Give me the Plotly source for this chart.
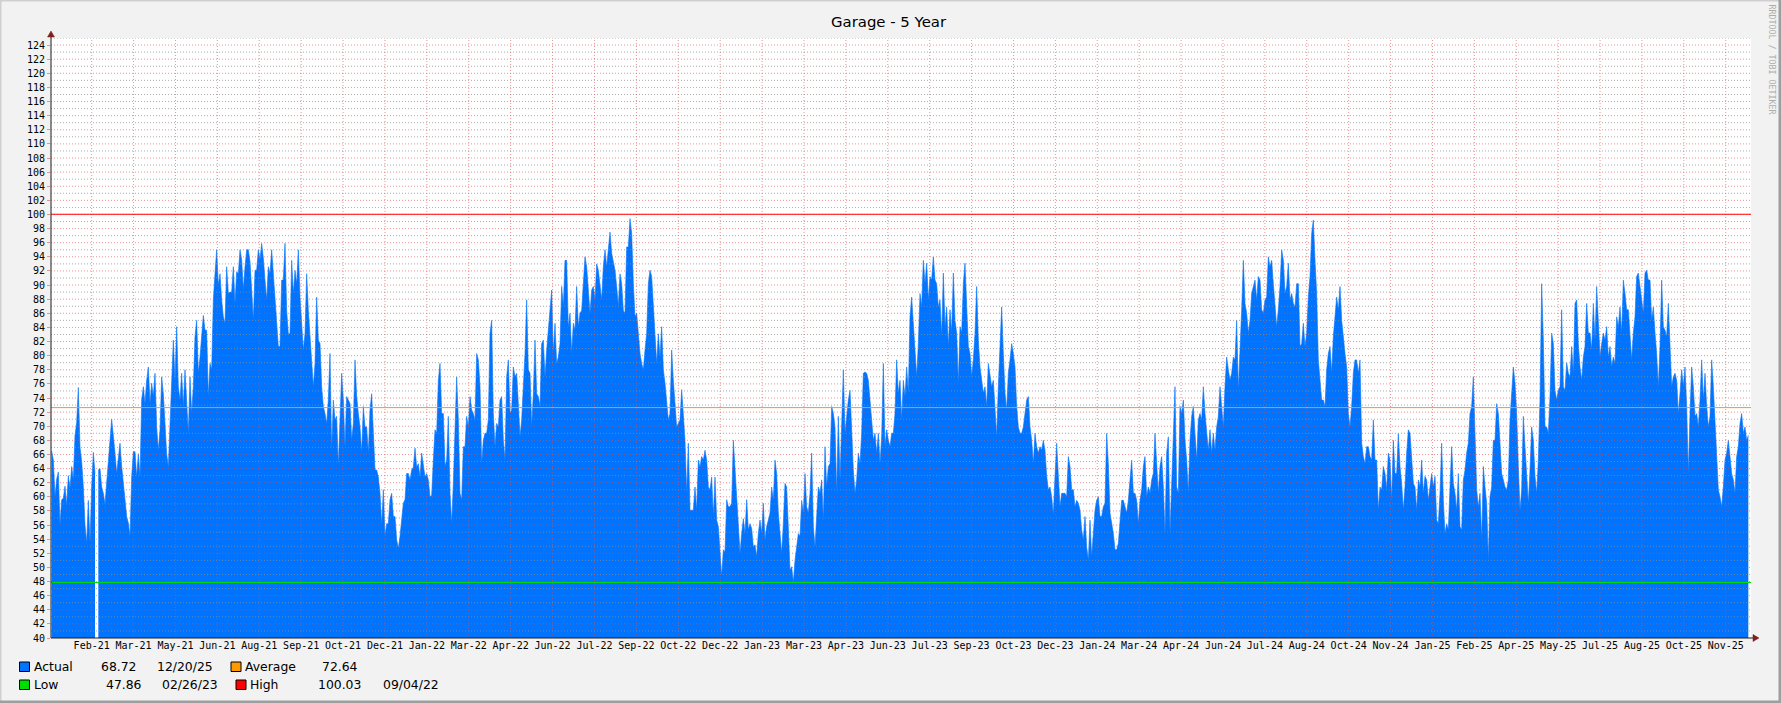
import plotly.graph_objects as go

# ---------------- data ----------------
title_text = "Garage - 5 Year"

x_tick_labels = ["Feb-21", "Mar-21", "May-21", "Jun-21", "Aug-21", "Sep-21", "Oct-21", "Dec-21",
                 "Jan-22", "Mar-22", "Apr-22", "Jun-22", "Jul-22", "Sep-22", "Oct-22", "Dec-22",
                 "Jan-23", "Mar-23", "Apr-23", "Jun-23", "Jul-23", "Sep-23", "Oct-23", "Dec-23",
                 "Jan-24", "Mar-24", "Apr-24", "Jun-24", "Jul-24", "Aug-24", "Oct-24", "Nov-24",
                 "Jan-25", "Feb-25", "Apr-25", "May-25", "Jul-25", "Aug-25", "Oct-25", "Nov-25"]

y_tick_values = list(range(40, 125, 2))

actual_dec20_jun21 = [
    66.5, 65.2, 60.0, 62.5, 63.5, 56.0, 59.6, 59.8, 61.5, 58.8,
    63.0, 61.2, 64.3, 62.5, 68.7, 70.5, 75.5, 67.0, 65.0, 61.4,
    56.0, 53.5, 59.5, 53.5, 61.4, 66.3, 63.3, None, 63.8, 64.0,
    61.4, 60.5, 59.0, 62.4, 64.3, 68.0, 71.0, 69.0, 66.2, 63.3,
    66.0, 67.6, 64.3, 61.4, 59.6, 57.2, 56.3, 54.4, 62.8, 66.4,
    66.4, 62.8, 66.1, 62.8, 73.7, 75.6, 73.2, 76.5, 78.4, 73.2,
    76.1, 74.2, 77.5, 69.9, 66.6, 69.5, 77.0, 74.6, 69.5, 66.1,
    64.2, 69.5, 75.6, 82.2, 76.5, 84.1, 75.6, 73.7, 77.5, 72.8,
    78.0, 74.2, 69.0, 77.0, 71.8, 75.6, 82.7, 85.0, 77.5, 79.8,
    83.1, 85.7, 83.6, 83.6, 74.2, 78.9, 78.0, 87.9, 91.6, 95.0]

actual_jun21_dec21 = [
    90.0, 91.6, 87.9, 85.5, 84.6, 92.6, 88.8, 89.0, 89.0, 92.6,
    87.4, 91.9, 91.6, 95.0, 93.6, 89.3, 92.6, 95.0, 95.0, 93.3,
    89.3, 85.0, 92.1, 92.1, 95.0, 93.6, 95.9, 93.8, 90.7, 87.9,
    92.6, 91.6, 95.0, 91.6, 87.4, 84.1, 81.3, 81.3, 90.7, 90.7,
    95.9, 86.4, 83.1, 83.1, 93.5, 88.8, 92.1, 90.2, 95.0, 88.3,
    84.1, 80.8, 83.1, 91.6, 86.4, 82.7, 79.8, 75.6, 78.9, 88.3,
    82.2, 81.7, 75.6, 72.8, 71.8, 70.4, 73.7, 80.3, 66.6, 73.7,
    70.9, 71.4, 64.3, 71.4, 77.5, 73.7, 67.1, 74.2, 73.7, 73.2,
    68.0, 70.4, 79.4, 74.2, 71.8, 69.9, 66.2, 72.8, 69.9, 69.9,
    66.2, 72.3, 74.6, 69.0, 63.8, 63.8, 62.8, 60.5, 56.0, 61.0,
    54.4, 56.2, 56.2]

actual_dec21_jun22 = [
    59.6, 60.5, 57.2, 57.2, 53.9, 52.7, 54.4, 56.7, 59.1, 59.6,
    63.3, 63.3, 62.4, 63.8, 64.2, 66.9, 64.2, 64.7, 62.8, 66.2,
    64.2, 62.8, 63.3, 62.4, 60.0, 60.2, 65.2, 69.5, 69.0, 76.5,
    78.9, 71.8, 71.8, 64.3, 65.2, 71.4, 60.5, 56.2, 61.9, 69.5,
    77.0, 70.9, 60.5, 59.6, 67.1, 67.1, 71.4, 69.9, 74.2, 72.3,
    71.8, 70.9, 80.3, 79.4, 75.6, 64.7, 68.0, 69.0, 69.0, 70.9,
    83.2, 85.0, 71.8, 67.1, 70.4, 69.9, 73.7, 74.2, 68.0, 65.2,
    77.0, 79.4, 71.8, 72.3, 78.4, 77.0, 77.5, 73.2, 68.5, 70.9,
    75.6, 80.3, 87.9, 78.0, 77.5, 69.9, 74.6, 82.2, 74.6, 74.2,
    72.8, 81.7, 82.2, 77.0, 80.8, 84.1, 86.4, 89.3, 80.3, 84.6,
    78.9, 79.8, 81.7]

actual_jun22_dec22 = [
    89.8, 87.0, 93.5, 93.5, 84.0, 86.0, 80.3, 84.6, 83.6, 89.8,
    84.1, 86.0, 86.4, 90.2, 94.0, 92.6, 88.8, 86.0, 89.3, 89.8,
    87.9, 93.0, 92.1, 90.2, 87.9, 92.6, 95.0, 92.6, 95.0, 97.5,
    94.5, 93.0, 92.1, 89.8, 87.0, 91.6, 90.2, 86.4, 86.0, 95.4,
    95.4, 99.4, 97.3, 90.2, 85.5, 86.0, 83.1, 80.3, 78.9, 78.0,
    80.8, 83.1, 90.2, 92.1, 91.2, 87.0, 81.3, 78.9, 83.1, 79.8,
    84.1, 78.0, 76.1, 73.7, 70.9, 71.8, 80.8, 76.5, 72.8, 69.9,
    70.4, 70.9, 75.2, 71.4, 68.0, 60.5, 67.6, 58.1, 58.1, 58.1,
    61.4, 58.1, 65.2, 64.2, 65.7, 65.2, 66.6, 65.2, 61.4, 61.0,
    62.8, 57.2, 62.8, 56.7, 55.8, 52.0, 48.7, 52.5, 52.2, 59.6,
    58.6, 58.6, 59.1]

actual_dec22_jun23 = [
    68.0, 63.8, 59.5, 56.2, 52.0, 54.8, 56.9, 54.8, 59.6, 55.3,
    56.2, 55.5, 52.9, 53.2, 51.5, 54.8, 56.7, 54.8, 59.1, 53.9,
    55.8, 56.7, 57.7, 61.4, 59.5, 65.2, 63.3, 57.7, 54.8, 52.0,
    56.2, 61.9, 61.4, 54.8, 49.6, 50.1, 47.9, 51.0, 52.9, 54.8,
    54.4, 59.5, 57.7, 63.3, 58.6, 57.7, 60.5, 66.2, 55.8, 52.9,
    57.2, 61.4, 60.5, 62.4, 56.7, 67.1, 61.4, 64.3, 64.7, 72.8,
    71.8, 69.9, 60.5, 71.4, 62.4, 69.0, 78.0, 69.0, 71.8, 73.7,
    75.1, 69.0, 63.8, 60.5, 62.4, 66.2, 64.7, 69.0, 77.5, 77.7,
    77.5, 76.5, 73.7, 71.8, 68.0, 69.0, 66.2, 69.0, 64.7, 68.5,
    78.9, 67.1, 69.5, 68.0, 67.1, 69.0, 69.0, 71.8, 79.4, 74.7,
    76.5, 70.9, 76.5]

actual_jun23_dec23 = [
    74.2, 78.4, 74.7, 85.5, 88.3, 84.6, 80.3, 77.0, 81.7, 88.8,
    86.9, 93.5, 90.2, 93.1, 87.9, 91.2, 90.7, 94.0, 90.7, 90.2,
    86.9, 87.9, 82.7, 91.7, 84.1, 86.9, 81.3, 86.5, 83.2, 91.7,
    85.0, 83.2, 76.1, 84.1, 83.2, 90.2, 93.1, 87.4, 81.3, 80.3,
    77.0, 79.4, 83.2, 89.8, 82.2, 78.4, 76.5, 74.7, 75.6, 72.8,
    78.9, 77.5, 75.6, 76.5, 72.8, 68.5, 75.6, 82.7, 86.9, 80.3,
    74.7, 72.3, 77.5, 79.4, 81.7, 80.3, 78.4, 72.8, 69.9, 69.0,
    69.0, 69.9, 71.8, 73.7, 74.2, 69.9, 68.0, 64.7, 69.0, 67.1,
    66.2, 67.1, 66.6, 68.0, 66.6, 62.9, 61.0, 61.4, 60.0, 57.4,
    62.9, 67.6, 62.9, 58.6, 60.5, 60.5, 60.5, 60.0, 65.7, 64.3,
    61.0, 61.0, 58.6, 59.5]

actual_dec23_jul24 = [
    59.1, 58.1, 55.3, 53.9, 57.2, 52.9, 51.0, 56.7, 51.5, 54.8,
    58.1, 59.5, 60.0, 57.2, 57.2, 58.6, 59.1, 69.0, 64.7, 57.7,
    56.2, 54.8, 52.5, 52.5, 53.4, 57.2, 59.5, 59.5, 58.6, 57.7,
    59.5, 61.9, 65.2, 60.5, 60.5, 59.5, 56.2, 59.5, 61.0, 64.3,
    65.7, 60.0, 61.4, 60.5, 62.4, 63.3, 69.0, 64.7, 60.5, 64.3,
    65.7, 61.4, 54.8, 66.2, 68.5, 54.8, 61.9, 67.1, 75.6, 61.4,
    60.5, 72.8, 71.8, 73.7, 68.0, 65.2, 60.5, 68.0, 71.4, 72.8,
    69.0, 65.2, 70.9, 71.8, 70.9, 75.6, 71.8, 69.0, 66.6, 69.5,
    66.2, 69.0, 66.6, 69.9, 71.4, 75.6, 72.8, 69.9, 75.6, 79.8,
    78.0, 76.5, 77.5, 79.8, 79.4, 85.0, 75.1, 80.3, 86.5, 93.5,
    87.4, 86.0, 83.2]

actual_jul24_jan25 = [
    85.0, 88.8, 89.8, 90.7, 87.9, 91.2, 90.7, 86.5, 86.0, 87.9,
    88.3, 94.0, 92.6, 93.5, 90.2, 87.4, 84.1, 86.5, 89.8, 95.0,
    93.5, 88.8, 89.8, 93.1, 87.9, 88.8, 87.4, 86.9, 90.2, 90.2,
    81.3, 81.7, 84.6, 81.3, 83.2, 88.3, 91.2, 97.3, 99.2, 93.5,
    88.8, 79.4, 76.1, 73.7, 73.7, 72.8, 78.0, 80.3, 81.3, 77.5,
    82.7, 85.0, 88.3, 86.5, 89.8, 85.0, 82.2, 80.3, 78.4, 71.8,
    69.9, 72.8, 77.5, 79.4, 79.4, 77.5, 79.4, 67.6, 65.7, 64.7,
    67.1, 67.1, 65.7, 65.2, 70.9, 65.2, 65.2, 58.1, 61.4, 61.0,
    64.3, 63.3, 61.0, 66.2, 65.2, 59.5, 68.0, 63.3, 63.3, 69.0,
    64.3, 61.9, 58.1, 61.4, 66.2, 69.5, 69.0, 64.7, 61.9, 61.4,
    58.1, 62.4, 61.4]

actual_jan25_jul25 = [
    65.2, 60.5, 62.9, 62.4, 59.5, 61.9, 63.3, 61.4, 62.9, 56.7,
    56.2, 60.5, 67.6, 59.5, 54.8, 56.2, 55.3, 61.4, 67.1, 61.9,
    60.5, 58.1, 63.3, 55.8, 55.3, 62.4, 63.8, 66.2, 67.6, 71.8,
    72.8, 77.0, 69.0, 61.0, 58.6, 60.5, 53.9, 64.3, 61.4, 59.1,
    51.0, 60.0, 61.4, 68.0, 68.0, 73.2, 71.8, 67.1, 63.3, 62.4,
    61.4, 61.0, 62.4, 70.9, 75.6, 78.4, 76.1, 71.8, 64.3, 58.1,
    61.0, 71.4, 67.1, 63.8, 59.1, 63.8, 69.9, 68.0, 62.9, 60.5,
    65.2, 73.7, 90.2, 82.2, 69.9, 69.9, 69.0, 74.2, 83.2, 81.7,
    75.1, 73.7, 75.1, 75.6, 86.5, 75.6, 75.1, 79.0, 77.5, 77.0,
    81.3, 77.5, 87.4, 87.9, 81.7, 78.4, 76.5, 79.8, 81.3, 87.4,
    83.2, 83.2, 80.8]

actual_jul25_dec25 = [
    87.4, 82.2, 89.8, 84.1, 79.8, 81.7, 83.2, 82.2, 84.1, 79.8,
    81.3, 78.4, 79.8, 78.9, 85.5, 84.1, 86.9, 83.2, 90.7, 88.8,
    86.5, 86.5, 83.2, 79.4, 83.2, 85.5, 91.2, 91.7, 89.8, 87.9,
    86.0, 91.7, 92.1, 90.7, 90.7, 85.0, 86.9, 83.2, 80.3, 75.6,
    81.3, 90.7, 84.1, 83.6, 82.7, 87.4, 80.8, 75.6, 77.0, 77.5,
    76.5, 71.8, 74.7, 78.0, 75.6, 78.4, 72.8, 63.3, 71.8, 78.4,
    75.6, 71.4, 71.8, 69.9, 73.7, 79.4, 73.7, 77.5, 72.8, 69.9,
    71.4, 79.4, 75.6, 70.9, 66.2, 61.0, 60.0, 58.6, 61.4, 65.2,
    66.2, 68.0, 65.7, 63.3, 62.4, 60.5, 65.7, 67.1, 70.4, 71.8,
    69.0, 69.9, 68.0, 68.7]

legend_labels = ["Actual", "Average", "Low", "High"]
legend_values = ["68.72", "72.64", "47.86", "100.03"]
legend_dates = ["12/20/25", "", "02/26/23", "09/04/22"]
average_value = 72.64
low_value = 47.86
high_value = 100.03

actual = (actual_dec20_jun21 + actual_jun21_dec21 + actual_dec21_jun22 + actual_jun22_dec22 +
          actual_dec22_jun23 + actual_jun23_dec23 + actual_dec23_jul24 + actual_jul24_jan25 +
          actual_jan25_jul25 + actual_jul25_dec25)

# ---------------- styling / layout ----------------
FIG_W, FIG_H = 1781, 703
M_L, M_R, M_T, M_B = 51, 30, 38, 65
PLOT_W = FIG_W - M_L - M_R
PLOT_H = FIG_H - M_T - M_B

def fx(p):
    return (p - M_L) / PLOT_W

def fy(p):
    return (FIG_H - M_B - p) / PLOT_H

AREA_COLOR = "#0073FF"
AVG_COLOR = "#FF9900"
LOW_COLOR = "#00DD00"
HIGH_COLOR = "#FF0000"
MINOR_GRID = "rgba(143,143,143,0.75)"
MAJOR_GRID = "rgba(222,79,79,0.6)"
ARROW = "#801F1F"
AXIS = "#1F1F1F"

samples_per_px = 0.6
x_start = -0.4
x_end = x_start + PLOT_W * samples_per_px
first_tick = 24.0
tick_step = 25.14
tick_pos = [first_tick + k * tick_step for k in range(len(x_tick_labels))]

# split into contiguous runs so that missing samples leave a visible gap
runs = []
cur_x, cur_y = [], []
for i, v in enumerate(actual):
    if v is None:
        if cur_x:
            runs.append((cur_x, cur_y))
        cur_x, cur_y = [], []
    else:
        cur_x.append(i)
        cur_y.append(v)
if cur_x:
    runs.append((cur_x, cur_y))

fig = go.Figure()
for rx, ry in runs:
    fig.add_trace(go.Scatter(
        x=rx, y=ry, mode="lines",
        line=dict(color=AREA_COLOR, width=0.6),
        fill="tozeroy", fillcolor=AREA_COLOR,
        hoverinfo="skip", showlegend=False))

shapes = []
# grid over data (rrdtool style)
for v in range(41, 126):
    major = (v % 2 == 0)
    shapes.append(dict(type="line", xref="paper", yref="y", x0=0, x1=1, y0=v, y1=v,
                       line=dict(color=MAJOR_GRID if major else MINOR_GRID, width=1,
                                 dash="1px,2px"), layer="above"))
for tp in tick_pos:
    shapes.append(dict(type="line", xref="x", yref="paper", x0=tp, x1=tp, y0=0, y1=1,
                       line=dict(color=MAJOR_GRID, width=1, dash="1px,2px"), layer="above"))
# HRULEs
for val, col in [(high_value, HIGH_COLOR), (average_value, AVG_COLOR), (low_value, LOW_COLOR)]:
    shapes.append(dict(type="line", xref="paper", yref="y", x0=0, x1=1, y0=val, y1=val,
                       line=dict(color=col, width=1), layer="above"))
# axis extensions and arrows
shapes.append(dict(type="line", xref="paper", yref="paper", x0=fx(M_L), x1=fx(1754),
                   y0=fy(638), y1=fy(638), line=dict(color=AXIS, width=1), layer="above"))
shapes.append(dict(type="path", xref="paper", yref="paper",
                   path=f"M {fx(1753)} {fy(634.5)} L {fx(1759)} {fy(638)} L {fx(1753)} {fy(641.5)} Z",
                   fillcolor=ARROW, line=dict(color=ARROW, width=0.5), layer="above"))
shapes.append(dict(type="line", xref="paper", yref="paper", x0=fx(51), x1=fx(51),
                   y0=fy(638), y1=fy(34), line=dict(color=AXIS, width=1), layer="above"))
shapes.append(dict(type="path", xref="paper", yref="paper",
                   path=f"M {fx(47.5)} {fy(37)} L {fx(51)} {fy(31)} L {fx(54.5)} {fy(37)} Z",
                   fillcolor=ARROW, line=dict(color=ARROW, width=0.5), layer="above"))
# frame shading
shapes.append(dict(type="rect", xref="paper", yref="paper", x0=fx(0), x1=fx(FIG_W),
                   y0=fy(0), y1=fy(1.5), fillcolor="#CFCFCF", line=dict(width=0)))
shapes.append(dict(type="rect", xref="paper", yref="paper", x0=fx(0), x1=fx(1.5),
                   y0=fy(0), y1=fy(FIG_H), fillcolor="#CFCFCF", line=dict(width=0)))
shapes.append(dict(type="rect", xref="paper", yref="paper", x0=fx(FIG_W - 2.5), x1=fx(FIG_W),
                   y0=fy(0), y1=fy(FIG_H), fillcolor="#9E9E9E", line=dict(width=0)))
shapes.append(dict(type="rect", xref="paper", yref="paper", x0=fx(0), x1=fx(FIG_W),
                   y0=fy(FIG_H - 2.5), y1=fy(FIG_H), fillcolor="#9E9E9E", line=dict(width=0)))

# legend
legend_colors = [AREA_COLOR, AVG_COLOR, LOW_COLOR, HIGH_COLOR]
row_y = [666.5, 684.5]
legend_layout = [  # square_x, label_x, value_x, date_x, row
    (19.5, 32, 99, 155.3, 0),
    (231, 243.3, 320, None, 0),
    (19.5, 32, 104, 160.3, 1),
    (236, 248.3, 316, 380.7, 1),
]
annotations = []
FONT = "DejaVu Sans"
for i, (sx, lx, vx, dx, r) in enumerate(legend_layout):
    cy = row_y[r]
    shapes.append(dict(type="rect", xref="paper", yref="paper", x0=fx(sx), x1=fx(sx + 10),
                       y0=fy(cy - 4.5), y1=fy(cy + 5), fillcolor=legend_colors[i],
                       line=dict(color="#000000", width=1)))
    annotations.append(dict(x=fx(lx), y=fy(cy), xref="paper", yref="paper", text=legend_labels[i],
                            showarrow=False, xanchor="left", yanchor="middle",
                            font=dict(family=FONT, size=12.4, color="black")))
    annotations.append(dict(x=fx(vx), y=fy(cy), xref="paper", yref="paper", text=legend_values[i],
                            showarrow=False, xanchor="left", yanchor="middle",
                            font=dict(family=FONT, size=12.4, color="black")))
    if dx is not None and legend_dates[i]:
        annotations.append(dict(x=fx(dx), y=fy(cy), xref="paper", yref="paper", text=legend_dates[i],
                                showarrow=False, xanchor="left", yanchor="middle",
                                font=dict(family=FONT, size=12.4, color="black")))

annotations.append(dict(x=fx(889), y=fy(22), xref="paper", yref="paper", text=title_text,
                        showarrow=False, xanchor="center", yanchor="middle",
                        font=dict(family=FONT, size=14.9, color="black")))
annotations.append(dict(x=fx(1771.5), y=fy(60), xref="paper", yref="paper",
                        text="RRDTOOL / TOBI OETIKER", textangle=90,
                        showarrow=False, xanchor="center", yanchor="middle",
                        font=dict(family="DejaVu Sans Mono", size=8.3, color="#ADADAD")))

fig.update_layout(
    width=FIG_W, height=FIG_H,
    margin=dict(l=M_L, r=M_R, t=M_T, b=M_B, pad=0),
    paper_bgcolor="#F2F2F2", plot_bgcolor="#FFFFFF",
    showlegend=False,
    shapes=shapes, annotations=annotations,
    xaxis=dict(range=[x_start, x_end], tickmode="array", tickvals=tick_pos, ticktext=x_tick_labels,
               showgrid=False, zeroline=False, showline=False,
               ticks="", tickfont=dict(family="DejaVu Sans Mono", size=10, color="black"),
               fixedrange=True),
    yaxis=dict(range=[40, 125], tickmode="array", tickvals=y_tick_values,
               ticktext=[str(v) for v in y_tick_values],
               showgrid=False, zeroline=False, showline=False,
               ticks="outside", ticklen=3, tickcolor=MAJOR_GRID,
               tickfont=dict(family="DejaVu Sans Mono", size=10, color="black"),
               fixedrange=True),
)

fig.write_html("out.html", config={"displayModeBar": False},
               post_script="document.body.style.margin='0px';document.body.style.overflow='hidden';")
